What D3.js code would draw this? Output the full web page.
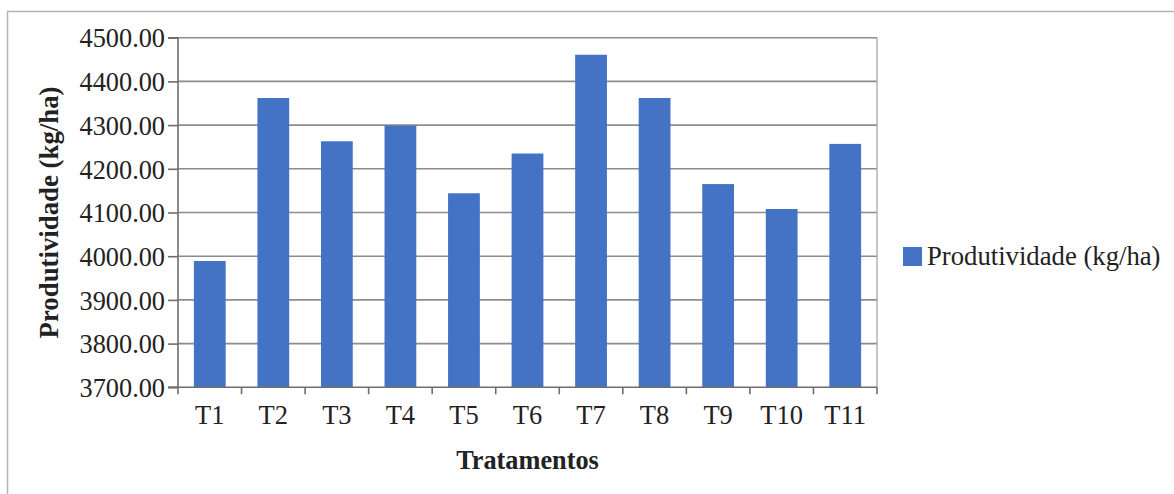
<!DOCTYPE html>
<html>
<head>
<meta charset="utf-8">
<script src="https://cdn.jsdelivr.net/npm/d3@7/dist/d3.min.js"></script>
<style>
  html, body { margin: 0; padding: 0; background: #fff; }
  svg { display: block; font-family: "Liberation Serif", "Times New Roman", serif; }
</style>
</head>
<body>
<svg id="chart" width="1174" height="494"></svg>
<script>
// Productivity per treatment (kg/ha)
const categories = ["T1", "T2", "T3", "T4", "T5", "T6", "T7", "T8", "T9", "T10", "T11"];
const productivity = [3989, 4362, 4263, 4299, 4144, 4235, 4461, 4362, 4165, 4108, 4257];
const yTicks = [3700, 3800, 3900, 4000, 4100, 4200, 4300, 4400, 4500];
const seriesName = "Produtividade (kg/ha)";
const xTitle = "Tratamentos";
const yTitle = "Produtividade (kg/ha)";

const svg = d3.select("#chart");
const plot = { left: 178, right: 877, top: 37.7, bottom: 387.3 };
const barColor = "#4472C4";
const gridColor = "#8c8c8c";
const textColor = "#222";

// outer chart frame (left and top edges visible)
svg.append("path")
  .attr("d", "M7.5,494 V11.5 H1174")
  .attr("fill", "none")
  .attr("stroke", "#b4b4b4")
  .attr("stroke-width", 1.5);

const x = d3.scaleBand().domain(categories).range([plot.left, plot.right]).paddingInner(0.5).paddingOuter(0.25);
const y = d3.scaleLinear().domain([3700, 4500]).range([plot.bottom, plot.top]);

// horizontal gridlines
svg.append("g").selectAll("line").data(yTicks.slice(1)).join("line")
  .attr("x1", plot.left).attr("x2", plot.right)
  .attr("y1", d => y(d)).attr("y2", d => y(d))
  .attr("stroke", gridColor).attr("stroke-width", 1.6);

// right edge of plot area
svg.append("line")
  .attr("x1", plot.right).attr("x2", plot.right)
  .attr("y1", plot.top).attr("y2", plot.bottom)
  .attr("stroke", "#a0a0a0").attr("stroke-width", 1.2);

// bars
svg.append("g").selectAll("rect").data(categories).join("rect")
  .attr("x", d => x(d))
  .attr("width", x.bandwidth())
  .attr("y", (d, i) => y(productivity[i]))
  .attr("height", (d, i) => y(3700) - y(productivity[i]))
  .attr("fill", barColor);

// y axis
const yAxis = d3.axisLeft(y).tickValues(yTicks).tickFormat(d3.format(".2f")).tickSize(10).tickPadding(3);
const gy = svg.append("g").attr("transform", `translate(${plot.left},0)`).call(yAxis);
gy.select(".domain").attr("stroke", "#6e6e6e").attr("stroke-width", 1.6).attr("d", `M-10,${plot.top}H0V${plot.bottom}H-10`);
gy.selectAll(".tick line").attr("stroke", "#6e6e6e").attr("stroke-width", 1.6);
gy.selectAll(".tick text")
  .attr("font-family", "Liberation Serif, serif")
  .attr("font-size", 26.3).attr("fill", textColor).attr("dy", "0.35em");

// x axis: ticks sit on category boundaries
const boundaries = d3.range(categories.length + 1).map(i => plot.left + i * (plot.right - plot.left) / categories.length);
const gx = svg.append("g");
gx.append("line")
  .attr("x1", plot.left - 10).attr("x2", plot.right)
  .attr("y1", plot.bottom).attr("y2", plot.bottom)
  .attr("stroke", "#6e6e6e").attr("stroke-width", 1.6);
gx.selectAll("line.tk").data(boundaries).join("line").attr("class", "tk")
  .attr("x1", d => d).attr("x2", d => d)
  .attr("y1", plot.bottom).attr("y2", plot.bottom + 7)
  .attr("stroke", "#6e6e6e").attr("stroke-width", 1.6);
gx.selectAll("text").data(categories).join("text")
  .attr("x", d => x(d) + x.bandwidth() / 2)
  .attr("y", 424)
  .attr("text-anchor", "middle")
  .attr("font-size", 26.5).attr("fill", textColor)
  .text(d => d);

// axis titles
svg.append("text")
  .attr("x", (plot.left + plot.right) / 2).attr("y", 469)
  .attr("text-anchor", "middle")
  .attr("font-size", 26.3).attr("font-weight", "bold").attr("fill", textColor)
  .text(xTitle);

svg.append("text")
  .attr("transform", `translate(58,${(plot.top + plot.bottom) / 2}) rotate(-90)`)
  .attr("text-anchor", "middle")
  .attr("font-size", 26.8).attr("font-weight", "bold").attr("fill", textColor)
  .text(yTitle);

// legend
const lg = svg.append("g").attr("transform", "translate(903,247)");
lg.append("rect").attr("width", 19).attr("height", 19).attr("fill", barColor);
lg.append("text").attr("x", 24).attr("y", 18)
  .attr("font-size", 26.7).attr("fill", textColor)
  .text(seriesName);
</script>
</body>
</html>
